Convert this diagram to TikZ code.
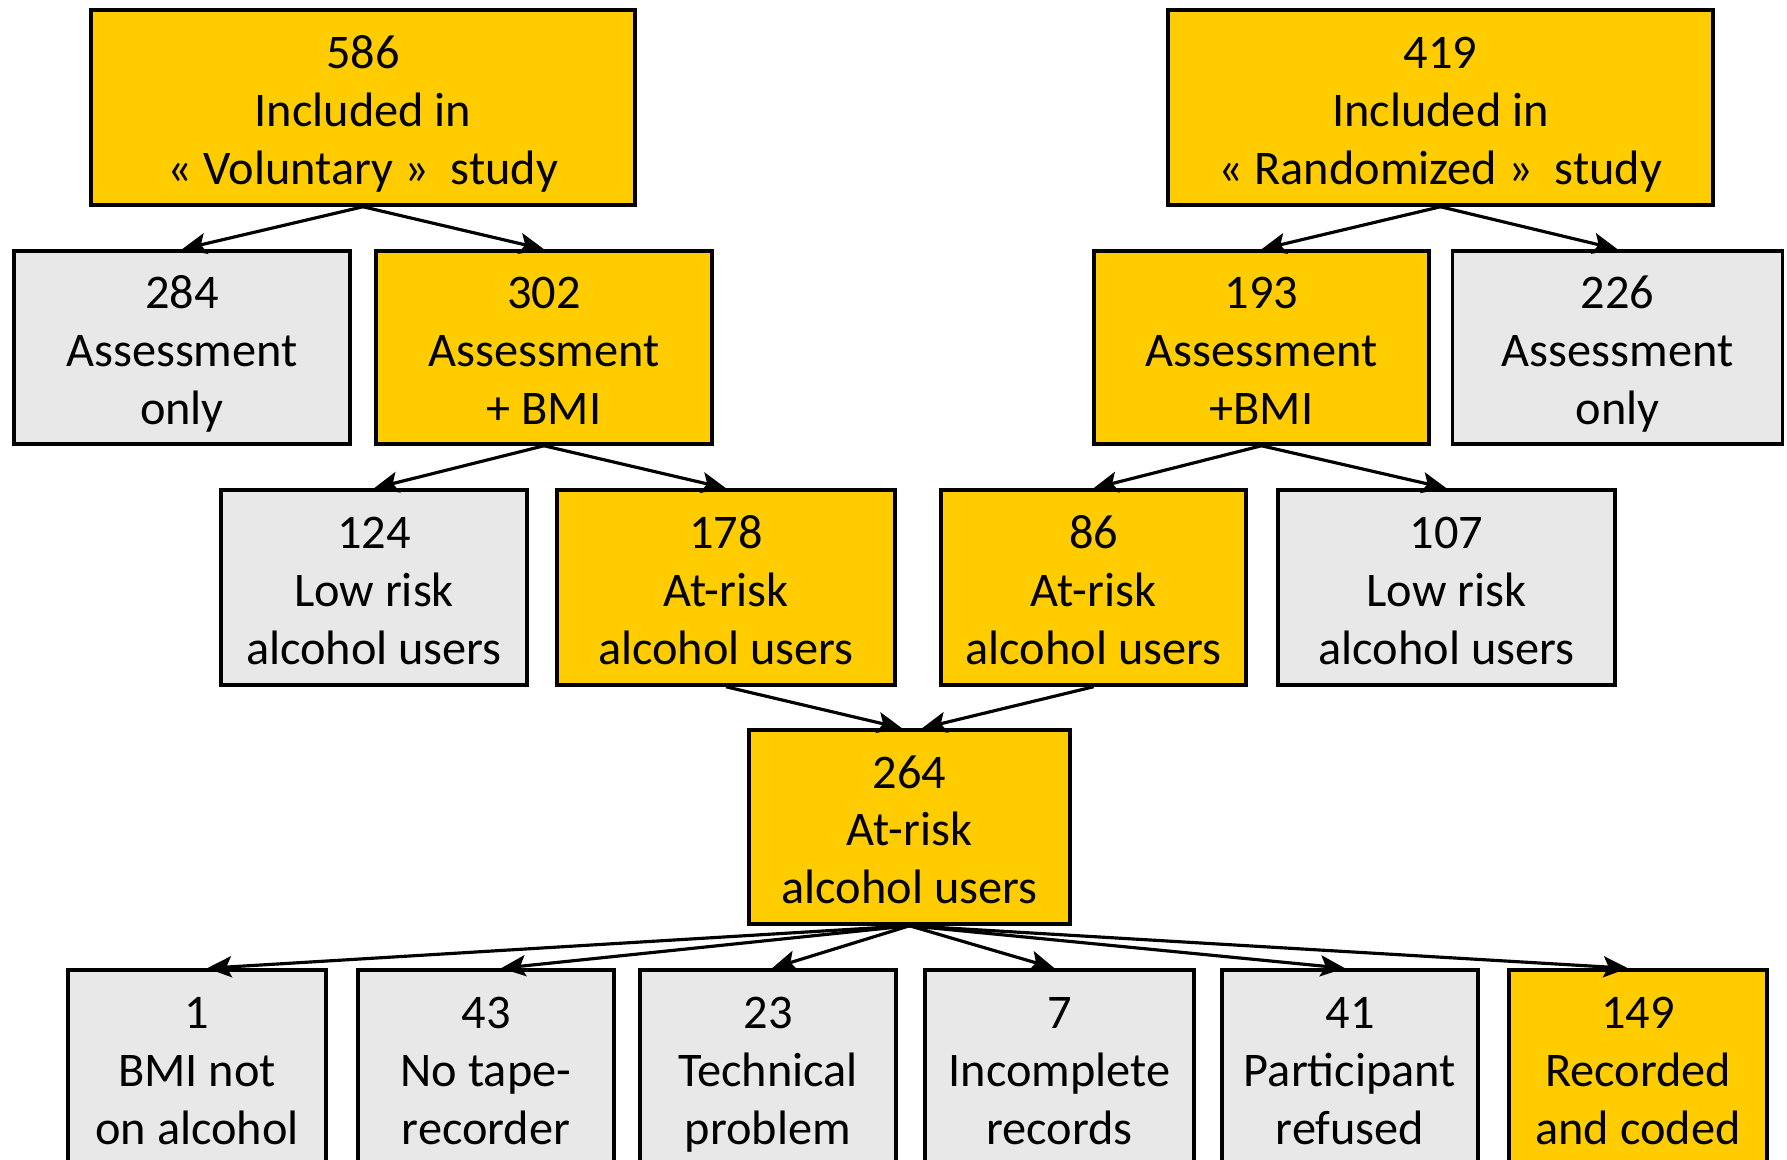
\documentclass[tikz,border=0pt]{standalone}
\usepackage{fontspec}
\setmainfont{Carlito}
\usepackage{tikz}
\usetikzlibrary{arrows.meta}

\definecolor{boxyellow}{HTML}{FFCC00}
\definecolor{boxgrey}{HTML}{E8E8E8}
\newcommand{\three}[3]{\rule{0pt}{31.5pt}#1\\#2\\#3\strut}

\begin{document}
\begin{tikzpicture} [line width=1.8pt,
                    solmu/.style={rectangle,draw,line width=2pt,inner sep=0pt,align=center,
                                  font=\fontsize{27.5}{33}\selectfont},
                    keep/.style={solmu,fill=boxyellow},
                    lost/.style={solmu,fill=boxgrey},
                    arr/.style={-{Stealth[length=14pt,width=12pt,inset=3pt]}}]

\useasboundingbox (0,0) rectangle (35.74,-23.18);

\node[keep,minimum width=10.88cm,minimum height=3.9cm] (vol) at (7.26,-2.15) {\three{586}{Included in}{« Voluntary »\ \ study}};
\node[keep,minimum width=10.9cm,minimum height=3.9cm] (rand) at (28.81,-2.15) {\three{419}{Included in}{« Randomized »\ \ study}};

\node[lost,minimum width=6.72cm,minimum height=3.86cm] (ao1) at (3.64,-6.95) {\three{284}{Assessment}{only}};
\node[keep,minimum width=6.72cm,minimum height=3.86cm] (bmi1) at (10.88,-6.95) {\three{302}{Assessment}{+ BMI}};
\node[keep,minimum width=6.7cm,minimum height=3.86cm] (bmi2) at (25.23,-6.95) {\three{193}{Assessment}{+BMI}};
\node[lost,minimum width=6.6cm,minimum height=3.86cm] (ao2) at (32.35,-6.95) {\three{226}{Assessment}{only}};

\node[lost,minimum width=6.12cm,minimum height=3.9cm] (low1) at (7.48,-11.75) {\three{124}{Low risk}{alcohol users}};
\node[keep,minimum width=6.76cm,minimum height=3.9cm] (risk1) at (14.52,-11.75) {\three{178}{At-risk}{alcohol users}};
\node[keep,minimum width=6.1cm,minimum height=3.9cm] (risk2) at (21.87,-11.75) {\three{86}{At-risk}{alcohol users}};
\node[lost,minimum width=6.74cm,minimum height=3.9cm] (low2) at (28.93,-11.75) {\three{107}{Low risk}{alcohol users}};

\node[keep,minimum width=6.42cm,minimum height=3.88cm] (total) at (18.19,-16.54) {\three{264}{At-risk}{alcohol users}};

\node[lost,minimum width=5.16cm,minimum height=3.9cm] (b1) at (3.94,-21.35) {\three{1}{BMI not}{on alcohol}};
\node[lost,minimum width=5.12cm,minimum height=3.9cm] (b2) at (9.72,-21.35) {\three{43}{No tape-}{recorder}};
\node[lost,minimum width=5.12cm,minimum height=3.9cm] (b3) at (15.36,-21.35) {\three{23}{Technical}{problem}};
\node[lost,minimum width=5.38cm,minimum height=3.9cm] (b4) at (21.19,-21.35) {\three{7}{Incomplete}{records}};
\node[lost,minimum width=5.12cm,minimum height=3.9cm] (b5) at (27.0,-21.35) {\three{41}{Participant}{refused}};
\node[keep,minimum width=5.16cm,minimum height=3.9cm] (b6) at (32.76,-21.35) {\three{149}{Recorded}{and coded}};

 \path[arr]
    (vol.south) edge (ao1.north)
    (vol.south) edge (bmi1.north)
    (rand.south) edge (bmi2.north)
    (rand.south) edge (ao2.north)
    (bmi1.south) edge (low1.north)
    (bmi1.south) edge (risk1.north)
    (bmi2.south) edge (risk2.north)
    (bmi2.south) edge (low2.north)
    (risk1.south) edge ([xshift=-0.15cm]total.north)
    (risk2.south) edge ([xshift=0.25cm]total.north)
    (total.south) edge ([xshift=0.2cm]b1.north)
    (total.south) edge ([xshift=0.3cm]b2.north)
    (total.south) edge ([xshift=0.08cm]b3.north)
    (total.south) edge ([xshift=-0.1cm]b4.north)
    (total.south) edge ([xshift=-0.1cm]b5.north)
    (total.south) edge ([xshift=-0.2cm]b6.north);
\end{tikzpicture}
\end{document}
